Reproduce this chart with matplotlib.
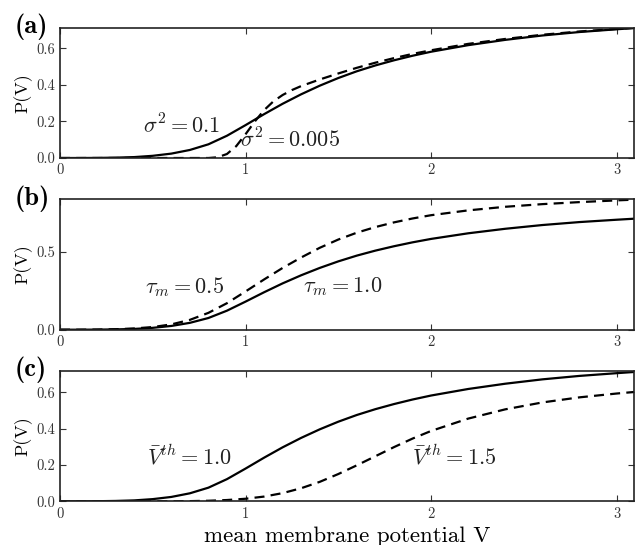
import matplotlib
matplotlib.use("Agg")
import matplotlib.pyplot as plt
from matplotlib.ticker import FixedLocator

plt.rcParams['font.family'] = ['cmr10', 'DejaVu Serif']
plt.rcParams['mathtext.fontset'] = 'cm'
plt.rcParams['axes.formatter.use_mathtext'] = True

# ---- data ----
V = [0.0, 0.1, 0.2, 0.3, 0.4, 0.5, 0.6, 0.7, 0.8, 0.9, 1.0, 1.1, 1.2, 1.3,
     1.4, 1.5, 1.6, 1.7, 1.8, 1.9, 2.0, 2.2, 2.4, 2.6, 2.8, 3.0, 3.1]

# reference curve: sigma^2 = 0.1, tau_m = 1.0, Vth = 1.0
P_ref = [0.0, 0.0, 0.0005, 0.002, 0.005, 0.012, 0.024, 0.044, 0.075, 0.122,
         0.180, 0.240, 0.297, 0.349, 0.396, 0.438, 0.475, 0.507, 0.535, 0.560,
         0.582, 0.618, 0.647, 0.671, 0.690, 0.705, 0.712]

# (a) sigma^2 = 0.005
V_a2 = [0.0, 0.5, 0.8, 0.85, 0.9, 0.95, 1.0, 1.05, 1.1, 1.15, 1.2, 1.25, 1.3,
        1.4, 1.5, 1.6, 1.7, 1.8, 1.9, 2.0, 2.2, 2.4, 2.6, 2.8, 3.0, 3.1]
P_a2 = [0.0, 0.0, 0.0, 0.004, 0.022, 0.065, 0.130, 0.200, 0.262, 0.310, 0.345,
        0.372, 0.394, 0.430, 0.463, 0.494, 0.522, 0.547, 0.570, 0.590, 0.625,
        0.652, 0.675, 0.693, 0.707, 0.713]

# (b) tau_m = 0.5
P_b2 = [0.0, 0.0, 0.0008, 0.003, 0.008, 0.017, 0.034, 0.063, 0.108, 0.170,
        0.245, 0.322, 0.396, 0.463, 0.525, 0.578, 0.622, 0.658, 0.688, 0.713,
        0.734, 0.765, 0.788, 0.805, 0.818, 0.829, 0.834]

# (c) Vth = 1.5
P_c2 = [0.0, 0.0, 0.0, 0.0, 0.0, 0.0, 0.0, 0.001, 0.003, 0.007, 0.014, 0.026,
        0.045, 0.072, 0.107, 0.150, 0.198, 0.248, 0.298, 0.345, 0.387, 0.455,
        0.506, 0.544, 0.572, 0.593, 0.602]

panel_labels = ['(a)', '(b)', '(c)']
x_ticks = [0, 1, 2, 3]
y_ticks = [[0.0, 0.2, 0.4, 0.6], [0.0, 0.5], [0.0, 0.2, 0.4, 0.6]]
y_max = [0.712, 0.836, 0.717]
texts = [
    [(0.45, 0.18, r'$\sigma^2 = 0.1$'), (0.97, 0.10, r'$\sigma^2 = 0.005$')],
    [(0.46, 0.276, r'$\tau_m = 0.5$'), (1.31, 0.276, r'$\tau_m = 1.0$')],
    [(0.47, 0.245, r'$\bar{V}^{th} = 1.0$'), (1.90, 0.245, r'$\bar{V}^{th} = 1.5$')],
]
series = [(V, P_ref, V_a2, P_a2), (V, P_ref, V, P_b2), (V, P_ref, V, P_c2)]

fig = plt.figure(figsize=(6.38, 5.45), dpi=100)
W, H = 638.0, 545.0
tops = [28, 199.3, 371]
bots = [158, 329.7, 501.3]
left, right = 60, 634

for i in range(3):
    ax = fig.add_axes([left / W, 1 - bots[i] / H, (right - left) / W,
                       (bots[i] - tops[i]) / H])
    xs, ys, xd, yd = series[i]
    ax.plot(xs, ys, color='black', lw=1.6, solid_capstyle='butt')
    ax.plot(xd, yd, color='black', lw=1.6, dashes=(4.5, 2.8))
    ax.set_xlim(0, 3.094)
    ax.set_ylim(0, y_max[i])
    ax.xaxis.set_major_locator(FixedLocator(x_ticks))
    ax.yaxis.set_major_locator(FixedLocator(y_ticks[i]))
    ax.set_xticklabels([str(t) for t in x_ticks])
    ax.set_yticklabels(['%.1f' % t for t in y_ticks[i]])
    ax.tick_params(direction='in', top=True, right=True, length=4,
                   width=0.8, labelsize=10.5, colors='#333333')
    ax.tick_params(axis='x', pad=4)
    ax.tick_params(axis='y', pad=3.5)
    for s in ax.spines.values():
        s.set_linewidth(1.2)
        s.set_color('#222222')
    ax.set_ylabel('P(V)', fontsize=13, labelpad=3)
    for (tx, ty, tt) in texts[i]:
        ax.text(tx, ty, tt, fontsize=16, ha='left', va='center', color='#222222')
    fig.text(15 / W, 1 - (tops[i] - 1) / H, panel_labels[i], fontsize=19,
             fontfamily='cmb10', ha='left', va='center')
    if i == 2:
        ax.set_xlabel('mean membrane potential V', fontsize=16.5, labelpad=4)

fig.savefig('out.png', dpi=100)
